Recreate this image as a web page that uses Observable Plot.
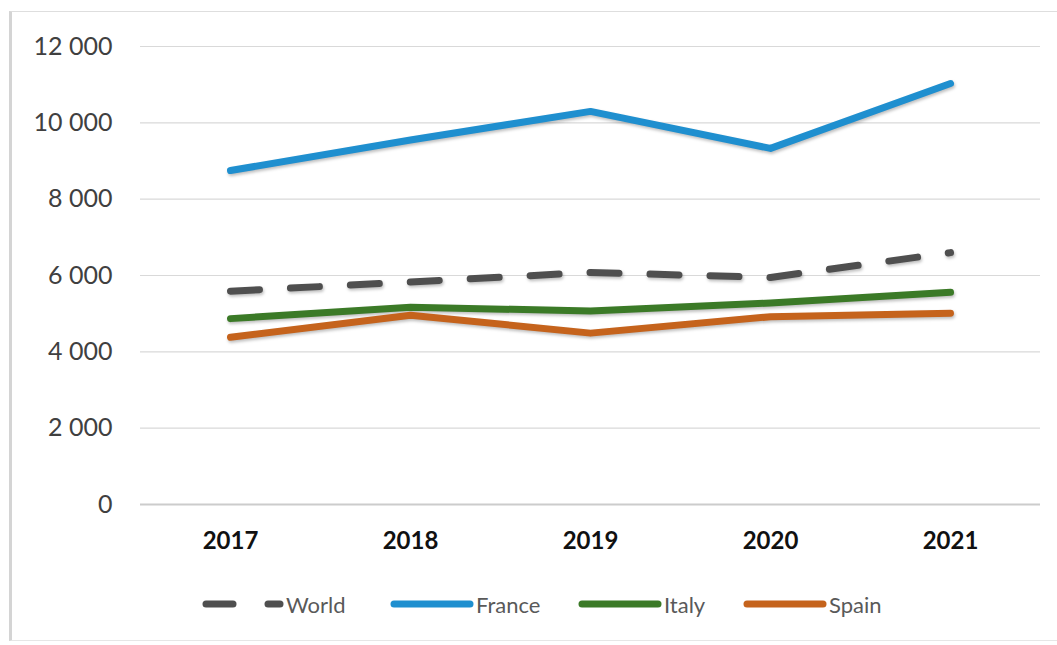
<!DOCTYPE html>
<html>
<head>
<meta charset="utf-8">
<script src="https://cdn.jsdelivr.net/npm/d3@7"></script>
<script src="https://cdn.jsdelivr.net/npm/@observablehq/plot@0.6"></script>
<style>
  html, body { margin: 0; padding: 0; background: #fff; }
  body { width: 1057px; height: 645px; position: relative; overflow: hidden; font-family: Lato, "Open Sans", sans-serif; }
  #frame { position: absolute; left: 9px; top: 11px; width: 1060px; height: 630px; border-left: 3px solid #d4d4d4; border-top: 1px solid #dedede; border-bottom: 1px solid #e6e6e6; box-sizing: border-box; }
  #chart { position: absolute; left: 0; top: 0; }
  #chart svg g[aria-label="line"] path { filter: drop-shadow(1px 2px 1.5px rgba(0,0,0,0.25)); }
  #legend { position: absolute; top: 589px; left: 0; width: 1057px; height: 30px; }
  .item { position: absolute; top: 0; height: 30px; display: flex; align-items: center; font-size: 22px; color: #595959; }
  .item svg { display: block; margin-right: 2px; }
</style>
</head>
<body>
<div id="frame"></div>
<div id="chart"></div>
<div id="legend"></div>
<script>
const years = ["2017", "2018", "2019", "2020", "2021"];
const world = [5590, 5830, 6080, 5950, 6600];
const france = [8750, 9550, 10300, 9330, 11030];
const italy = [4870, 5170, 5070, 5280, 5560];
const spain = [4380, 4960, 4490, 4920, 5010];
const seriesNames = ["World", "France", "Italy", "Spain"];
const seriesValues = [world, france, italy, spain];
const seriesColors = ["#4f4f4f", "#1f8fcf", "#3b7a27", "#c5631c"];
const yTicks = [0, 2000, 4000, 6000, 8000, 10000, 12000];
const yTickLabels = ["0", "2 000", "4 000", "6 000", "8 000", "10 000", "12 000"];

const rows = seriesNames.flatMap((name, i) =>
  years.map((year, j) => ({series: name, year, value: seriesValues[i][j]}))
);

const lineMarks = seriesNames.map((name, i) =>
  Plot.line(rows.filter(d => d.series === name), {
    x: "year", y: "value",
    stroke: seriesColors[i],
    strokeWidth: 7,
    strokeLinecap: "round",
    strokeLinejoin: "round",
    strokeDasharray: name === "World" ? "29,31" : null
  })
);

const plot = Plot.plot({
  width: 1057,
  height: 575,
  marginLeft: 140,
  marginRight: 17,
  marginTop: 46,
  marginBottom: 71,
  style: {fontFamily: "Lato, 'Open Sans', sans-serif", background: "transparent", overflow: "visible"},
  x: {type: "point", domain: years, padding: 0.5, label: null},
  y: {domain: [0, 12000], label: null},
  marks: [
    Plot.gridY(yTicks.slice(1), {stroke: "#d9d9d9", strokeOpacity: 1, strokeWidth: 1.2}),
    Plot.ruleY([0], {stroke: "#cccccc", strokeWidth: 2}),
    Plot.axisY(yTicks, {
      tickSize: 0, tickPadding: 28,
      tickFormat: d => yTickLabels[yTicks.indexOf(d)],
      fontSize: 25, fill: "#404040", label: null
    }),
    Plot.axisX(years, {
      tickSize: 0, tickPadding: 27,
      fontSize: 24, fontWeight: "bold", fill: "#111", label: null
    }),
    ...lineMarks
  ]
});
document.getElementById("chart").appendChild(plot);

// Legend
const legendLeft = [200, 390, 578, 743];
const legend = document.getElementById("legend");
seriesNames.forEach((name, i) => {
  const item = document.createElement("div");
  item.className = "item";
  item.style.left = legendLeft[i] + "px";
  const sw = d3.create("svg").attr("width", 84).attr("height", 30);
  if (name === "World") {
    sw.append("line").attr("x1", 6).attr("x2", 33).attr("y1", 15).attr("y2", 15)
      .attr("stroke", seriesColors[i]).attr("stroke-width", 7).attr("stroke-linecap", "round");
    sw.append("line").attr("x1", 68).attr("x2", 80).attr("y1", 15).attr("y2", 15)
      .attr("stroke", seriesColors[i]).attr("stroke-width", 7).attr("stroke-linecap", "round");
  } else {
    sw.append("line").attr("x1", 4).attr("x2", 80).attr("y1", 15).attr("y2", 15)
      .attr("stroke", seriesColors[i]).attr("stroke-width", 7).attr("stroke-linecap", "round");
  }
  item.appendChild(sw.node());
  const t = document.createElement("span");
  t.textContent = name;
  item.appendChild(t);
  legend.appendChild(item);
});
</script>
</body>
</html>
